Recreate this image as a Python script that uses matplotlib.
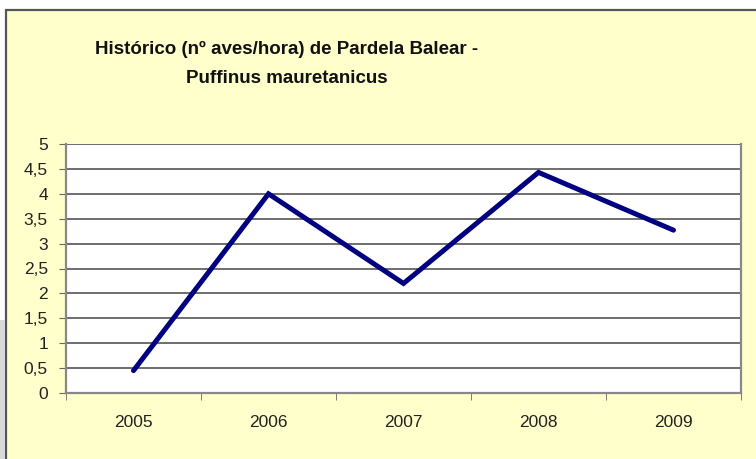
import matplotlib.pyplot as plt
from matplotlib.patches import Rectangle

years = ["2005", "2006", "2007", "2008", "2009"]
birds_per_hour = [0.45, 4.0, 2.2, 4.43, 3.27]
y_ticks = [0, 0.5, 1, 1.5, 2, 2.5, 3, 3.5, 4, 4.5, 5]
y_labels = ["0", "0,5", "1", "1,5", "2", "2,5", "3", "3,5", "4", "4,5", "5"]

plt.rcParams['font.family'] = ['Liberation Sans', 'DejaVu Sans']

fig = plt.figure(figsize=(7.56, 4.59), dpi=100)
fig.patch.set_facecolor("white")

# yellow panel with dark border, cut off on the right and bottom
panel = Rectangle((6 / 756, -0.05), 1.0, 1 - 10 / 459 + 0.05, transform=fig.transFigure,
                  facecolor="#ffffcc", edgecolor="#555555", linewidth=1.6, zorder=-2)
fig.patches.append(panel)
shadow = Rectangle((0, 0), 5 / 756, 139 / 459, transform=fig.transFigure,
                   facecolor="#d9d9d9", edgecolor="none", zorder=-1)
fig.patches.append(shadow)

ax = fig.add_axes([66 / 756, 1 - 393 / 459, 675 / 756, 249 / 459])
ax.set_facecolor("white")

x = range(len(years))
ax.plot(x, birds_per_hour, color="#000080", linewidth=3.6, solid_capstyle="round",
        solid_joinstyle="miter", zorder=3)

ax.set_xlim(-0.5, len(years) - 0.5)
ax.set_ylim(0, 5)
ax.set_yticks(y_ticks)
ax.set_yticklabels(y_labels, fontsize=12.5)
ax.set_xticks(list(x))
ax.set_xticklabels(years, fontsize=12.5)
ax.set_xticks([i - 0.5 for i in range(len(years) + 1)], minor=True)
ax.tick_params(axis="x", which="major", length=0, pad=16, colors="#222222")
ax.tick_params(axis="x", which="minor", length=5, color="#666666")
ax.tick_params(axis="y", length=5, color="#666666", pad=8, colors="#222222")
ax.tick_params(axis="y", color="#666666")

ax.grid(axis="y", color="#555555", linewidth=1.2)
ax.set_axisbelow(True)
for side in ["left", "bottom", "right"]:
    ax.spines[side].set_color("#888888")
    ax.spines[side].set_linewidth(1.6)
ax.spines["top"].set_visible(False)

fig.text(287 / 756, 1 - 64 / 459, "Histórico (nº aves/hora) de Pardela Balear -\nPuffinus mauretanicus",
         ha="center", va="center", fontsize=13.5, fontweight="bold", linespacing=1.9,
         color="#111111")

fig.savefig("out.png", dpi=100)
